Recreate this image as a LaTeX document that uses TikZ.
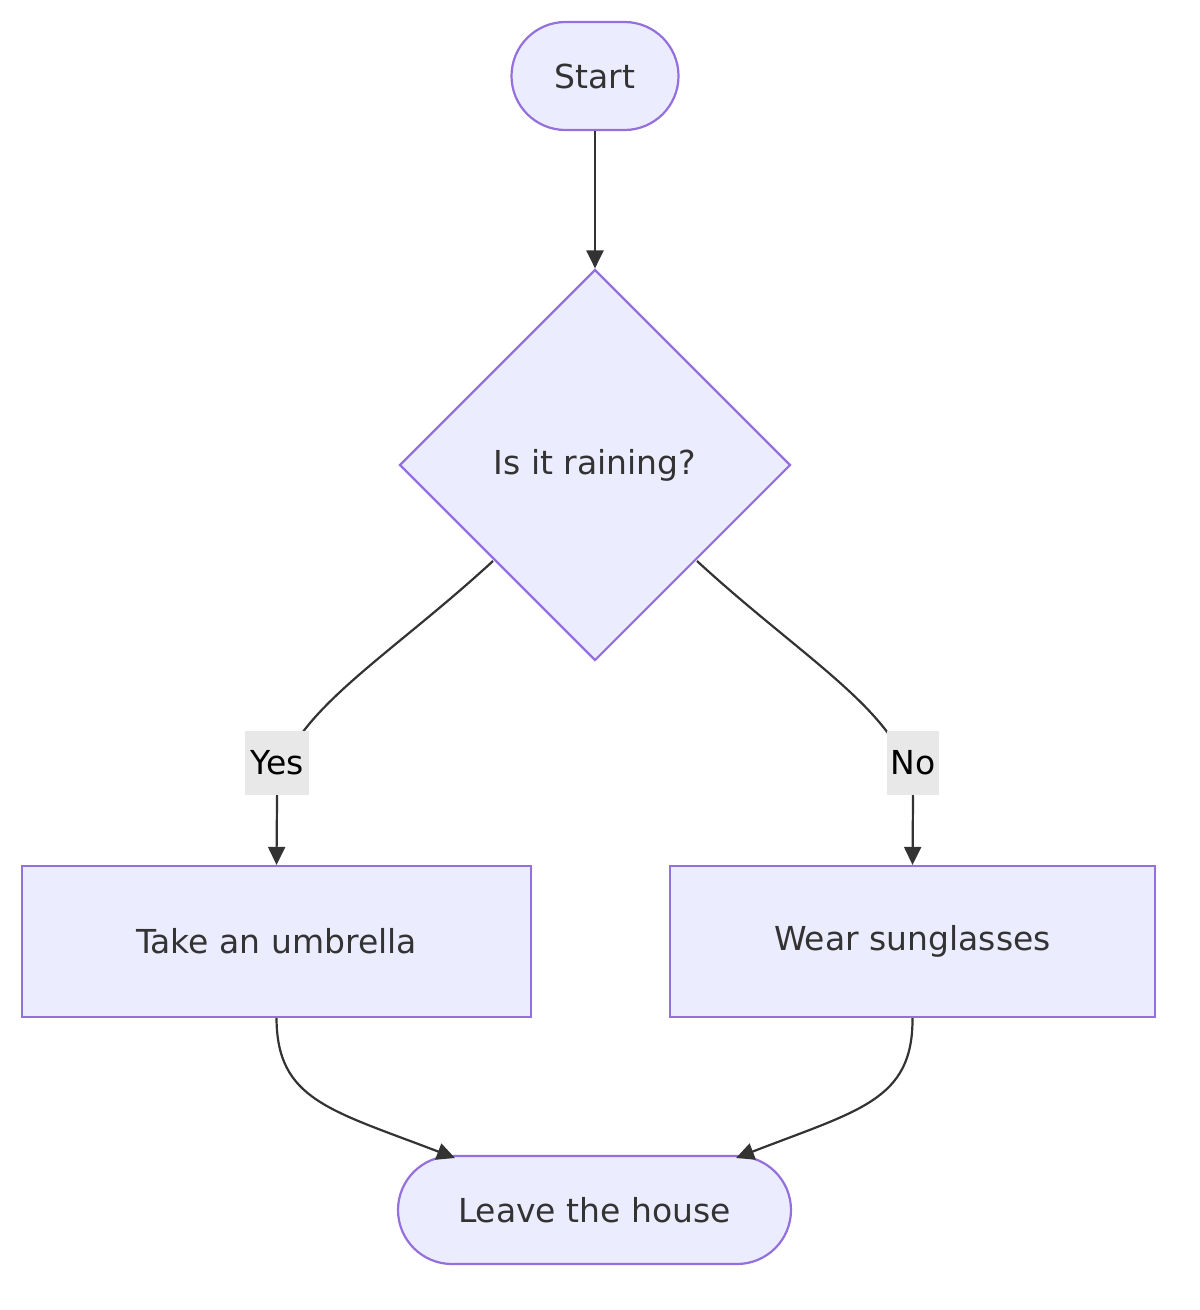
\documentclass[tikz,border=0pt]{standalone}
\usepackage{fontspec}
\setmainfont{DejaVu Sans}
\usetikzlibrary{shapes.geometric,arrows.meta}
\definecolor{nfill}{HTML}{ECECFF}
\definecolor{nline}{HTML}{9370DB}
\definecolor{eline}{HTML}{333333}
\definecolor{lbg}{HTML}{E8E8E8}
\begin{document}
\begin{tikzpicture}[x=1pt,y=-1pt,
 box/.style={draw=nline,fill=nfill,line width=2.2pt,inner sep=0pt,font=\fontsize{33}{38}\selectfont,text=eline},
 stad/.style={box,rounded corners=54pt},
 edge/.style={draw=eline,line width=2.2pt,-{Triangle[length=18pt,width=17pt]}},
 lab/.style={fill=lbg,inner sep=0pt,font=\fontsize{33}{38}\selectfont,text=black}]
\useasboundingbox (0,0) rectangle (1200,1310);
\node[stad,minimum width=167pt,minimum height=108pt] (start) at (595,76) {Start};
\node[box,diamond,minimum width=391pt,minimum height=391pt,aspect=1] (dec) at (595,465) {Is it raining?};
\node[box,minimum width=509pt,minimum height=151pt] (umb) at (276.5,941.5) {Take an umbrella};
\node[box,minimum width=485pt,minimum height=151pt] (sun) at (912.5,941.5) {Wear sunglasses};
\node[stad,minimum width=393pt,minimum height=108pt] (leave) at (594.5,1210) {Leave the house};
\draw[edge] (start) -- (dec.north);
\coordinate (dl) at (493,561);
\coordinate (dr) at (697,561);
\draw[edge] (dl) .. controls (380,665) and (277,720) .. (277,800) -- (umb.north);
\draw[edge] (dr) .. controls (810,665) and (913,720) .. (913,800) -- (sun.north);
\node[lab,minimum width=64pt,minimum height=64pt] (yes) at (277,763) {Yes};
\node[lab,minimum width=52pt,minimum height=64pt] (no) at (913,763) {No};
\coordinate (lt) at (455,1158);
\coordinate (rt) at (736,1158);
\draw[edge] (umb.south) .. controls (277,1100) and (330,1110) .. (lt);
\draw[edge] (sun.south) .. controls (913,1100) and (860,1110) .. (rt);
\end{tikzpicture}
\end{document}
